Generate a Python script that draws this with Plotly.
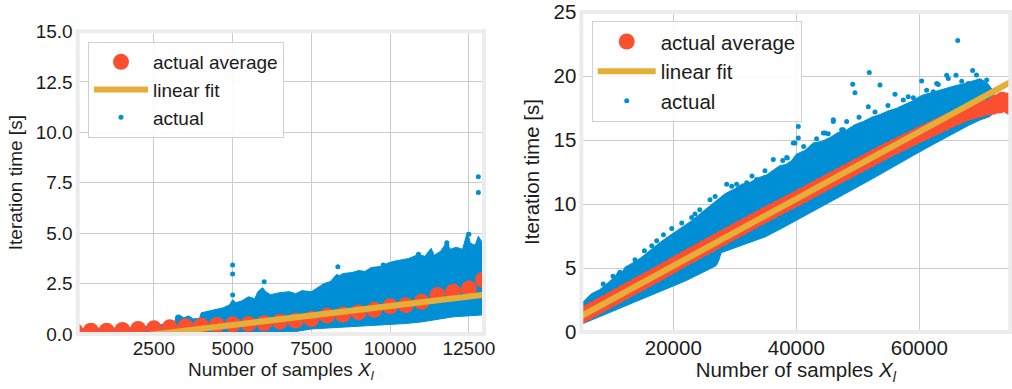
import plotly.graph_objects as go

BLUE = "#008fd5"
RED = "#fc4f30"
GOLD = "#e5ae38"
GRID = "#cbcbcb"
FRAME = "#ececec"
TEXT = "#1c1c1c"
FONT = "Liberation Sans, Arial, sans-serif"

# ---------------- left panel: small sample counts ----------------
left_avg_x = [0, 500, 1000, 1500, 2000, 2500, 3000, 3500, 4000, 4500, 5000, 5500, 6000,
              6500, 7000, 7500, 8000, 8500, 9000, 9500, 10000, 10500, 11000, 11500,
              12000, 12500, 12950]
left_avg_y = [0.15, 0.16, 0.16, 0.2, 0.25, 0.28, 0.33, 0.38, 0.41, 0.45, 0.48, 0.5, 0.53,
              0.61, 0.66, 0.74, 0.91, 0.96, 1.07, 1.2, 1.37, 1.43, 1.6, 1.93,
              2.1, 2.26, 2.69]
left_fit = {"slope": 1.87e-4, "intercept": -0.486}

# envelope of the dense cloud of per-iteration timings
left_upper_x = [80, 1000, 2000, 2500, 3150, 3200, 3300, 3450, 3600, 3750, 3950, 4000, 4300,
                4500, 4700, 4900, 5000, 5100, 5300, 5500, 5700, 5800, 5950, 6050, 6200,
                6500, 6800, 7000, 7200, 7500, 7700, 7900, 8100, 8300, 8400, 8500, 8800,
                9000, 9200, 9400, 9700, 9900, 10100, 10400, 10600, 10900, 11100, 11300,
                11400, 11600, 11800, 11900, 12100, 12300, 12450, 12550, 12700, 12800,
                12900, 12980]
left_upper_y = [0.25, 0.27, 0.32, 0.45, 0.5, 0.9, 0.95, 0.8, 0.9, 0.75, 0.78, 1.05, 1.15,
                1.25, 1.3, 1.45, 1.7, 1.55, 1.65, 1.85, 1.75, 2.1, 2.3, 2.1, 1.95,
                2.05, 2.1, 2.0, 2.15, 2.1, 2.3, 2.5, 2.6, 2.95, 2.9, 3.0, 3.05,
                3.15, 3.1, 3.3, 3.35, 3.5, 3.6, 3.7, 3.75, 3.95, 3.85, 4.25,
                3.9, 4.1, 4.55, 4.2, 4.3, 4.2, 5.05, 4.5, 4.4, 4.85,
                4.6, 4.5]
left_lower_x = [80, 5000, 6000, 7000, 7500, 8500, 9500, 10500, 11000, 11500, 12000, 12980]
left_lower_y = [0.0, 0.0, 0.05, 0.12, 0.25, 0.33, 0.42, 0.52, 0.6, 0.72, 0.85, 0.95]

# isolated slow iterations
left_out_x = [5000, 5000, 5000, 6000, 8340, 9780, 10900, 11800, 11800, 12500, 12800, 12800]
left_out_y = [3.42, 2.97, 1.93, 2.59, 3.34, 3.42, 3.96, 4.52, 4.4, 4.95, 7.8, 7.02]

left_xrange = [80, 12980]

# ---------------- right panel: large sample counts ----------------
right_avg_x = list(range(5000, 73000, 1000)) + [72500, 73000, 73500, 74000, 74500, 74800]
right_avg_y = [1.26, 1.52, 1.78, 2.05, 2.31, 2.57, 2.84, 3.1, 3.37, 3.63, 3.89, 4.15, 4.41,
               4.68, 4.95, 5.23, 5.5, 5.77, 6.04, 6.3, 6.56, 6.82, 7.08, 7.35, 7.61, 7.87,
               8.13, 8.39, 8.65, 8.91, 9.17, 9.42, 9.67, 9.92, 10.17, 10.42, 10.67, 10.93,
               11.19, 11.45, 11.7, 11.96, 12.21, 12.47, 12.72, 12.98, 13.23, 13.48, 13.74,
               13.99, 14.24, 14.48, 14.72, 14.95, 15.18, 15.42, 15.64, 15.87, 16.1, 16.32,
               16.55, 16.77, 16.98, 17.16, 17.3, 17.42, 17.55, 17.62,
               17.95, 17.7, 18.15, 17.85, 18.1, 17.6]
right_fit = {"slope": 2.62e-4, "intercept": -0.07}

right_upper_x = [5040, 5370, 6700, 8000, 9400, 10500, 11000, 11400, 12150, 13800, 14860,
                 16000, 17560, 19000, 20280, 22000, 23000, 24500, 25700, 27000, 28400,
                 30000, 31100, 32500, 33800, 35200, 36500, 37300, 38300, 39250, 40000,
                 41400, 42760, 44100, 45480, 46800, 48190, 49500, 50900, 52300, 53610,
                 55000, 56320, 57700, 59020, 60400, 61740, 63100, 64450, 65800, 67150,
                 68500, 69870, 71000, 71800, 72200]
right_upper_y = [2.2, 2.35, 3.0, 3.3, 3.9, 4.3, 4.7, 4.45, 5.07, 5.5, 5.85,
                 6.3, 6.9, 7.4, 7.8, 8.4, 8.7, 9.3, 9.75, 10.3, 10.8,
                 11.2, 11.55, 11.7, 12.05, 12.3, 12.7, 13.0, 13.1, 13.4, 13.9,
                 14.2, 14.78, 14.9, 15.2, 15.6, 15.8, 16.2, 16.46, 16.8, 17.0,
                 17.3, 17.49, 17.8, 18.1, 18.5, 18.7, 18.9, 19.1, 19.25, 19.4,
                 19.6, 19.8, 19.5, 19.0, 18.5]
right_lower_x = [5040, 6000, 8000, 10000, 12000, 14000, 16000, 18000, 20000, 22000, 24000,
                 26000, 27000, 27400, 27800, 29000, 31000, 33000, 35000, 38000, 41000,
                 44000, 47000, 50000, 53000, 56000, 59000, 62000, 65000, 68000, 70000,
                 71500, 72200]
right_lower_y = [0.6, 0.75, 1.2, 1.6, 2.0, 2.4, 2.8, 3.2, 3.6, 4.0, 4.45,
                 4.95, 5.2, 5.6, 6.2, 6.45, 6.8, 7.1, 7.45, 8.2, 9.0,
                 9.75, 10.55, 11.35, 12.15, 12.95, 13.8, 14.6, 15.4, 16.15, 16.6,
                 16.85, 17.2]

right_out_x = [11330, 13770, 17300, 19740, 21370, 22990, 23530, 25970, 28680, 30300, 31940,
               33560, 36260, 38440, 38540, 39510, 39790, 40330, 40330, 42760, 44400, 44670,
               46020, 46020, 47380, 47640, 48190, 49170, 49540, 51710, 51870, 53610, 56050,
               57400, 59030, 60390, 62280, 62830, 63090, 64450, 64720, 65970, 66250, 67970,
               68680, 70960,
               8600, 10200, 15300, 16500, 18400, 24300, 26800, 29500, 32800, 34900, 37800,
               41200, 43300, 45200, 50200, 52800, 54900, 58200, 61200, 66900, 69300]
right_out_y = [4.68, 5.64, 7.14, 8.1, 8.52, 8.95, 9.22, 10.35, 11.55, 11.55, 11.67,
               11.93, 13.49, 13.65, 13.61, 14.77, 14.78, 16.07, 15.16, 14.52, 15.55, 15.55,
               16.46, 16.59, 15.81, 15.81, 16.46, 19.37, 18.7, 17.62, 20.29, 19.31, 18.58,
               18.14, 18.32, 19.62, 18.79, 19.43, 19.36, 20.08, 19.82, 20.08, 22.8, 19.43,
               20.45, 19.7,
               3.75, 4.35, 6.35, 6.75, 7.6, 9.55, 10.6, 11.4, 12.2, 12.6, 13.4,
               14.5, 15.1, 15.5, 16.8, 17.2, 17.7, 18.4, 18.9, 19.6, 20.1]

right_xrange = [5040, 74800]

W, H = 1012, 389


def panel(xa, ya, legend, avg_x, avg_y, fit, up_x, up_y, lo_x, lo_y, out_x, out_y, xr):
    traces = []
    # dense cloud as a filled band between its upper and lower envelopes
    traces.append(go.Scatter(
        x=up_x + lo_x[::-1], y=up_y + lo_y[::-1], xaxis=xa, yaxis=ya,
        mode="lines", fill="toself", fillcolor=BLUE,
        line=dict(color=BLUE, width=1), showlegend=False, hoverinfo="skip"))
    traces.append(go.Scatter(
        x=out_x, y=out_y, xaxis=xa, yaxis=ya, mode="markers", name="actual",
        marker=dict(color=BLUE, size=5), legend=legend, legendrank=3))
    traces.append(go.Scatter(
        x=avg_x, y=avg_y, xaxis=xa, yaxis=ya, mode="markers", name="actual average",
        marker=dict(color=RED, size=16), legend=legend, legendrank=1))
    fx = list(xr)
    fy = [fit["slope"] * v + fit["intercept"] for v in fx]
    traces.append(go.Scatter(
        x=fx, y=fy, xaxis=xa, yaxis=ya, mode="lines", name="linear fit",
        line=dict(color=GOLD, width=6), legend=legend, legendrank=2))
    return traces


fig = go.Figure()
for t in panel("x", "y", "legend", left_avg_x, left_avg_y, left_fit,
               left_upper_x, left_upper_y, left_lower_x, left_lower_y,
               left_out_x, left_out_y, left_xrange):
    fig.add_trace(t)
for t in panel("x2", "y2", "legend2", right_avg_x, right_avg_y, right_fit,
               right_upper_x, right_upper_y, right_lower_x, right_lower_y,
               right_out_x, right_out_y, right_xrange):
    fig.add_trace(t)

FS_L, FS_R = 19, 20.5
xtitle = "Number of samples <i>X<sub>l</sub></i>"
ytitle = "Iteration time [s]"


def axis(domain, rng, tickvals, size, title, standoff, lstandoff, fmt, anchor):
    return dict(domain=domain, range=rng, tickvals=tickvals, tickformat=fmt,
                showgrid=True, gridcolor=GRID, gridwidth=1, zeroline=False,
                showline=False, ticks="", ticklabeloverflow="allow",
                tickfont=dict(size=size, color=TEXT, family=FONT),
                title=dict(text=title, font=dict(size=size, color=TEXT, family=FONT),
                           standoff=standoff),
                automargin=False, ticklabelstandoff=lstandoff, anchor=anchor)


fig.update_layout(
    width=W, height=H, margin=dict(l=0, r=0, t=0, b=0),
    paper_bgcolor="white", plot_bgcolor="white",
    font=dict(family=FONT, color=TEXT),
    xaxis=axis([77.7 / W, 484 / W], left_xrange, [2500, 5000, 7500, 10000, 12500],
               FS_L, xtitle, 1, 1, "d", "y"),
    yaxis=axis([1 - 334 / H, 1 - 31.3 / H], [0, 15.01], [0, 2.5, 5, 7.5, 10, 12.5, 15],
               FS_L, ytitle, 8, 4, ".1f", "x"),
    xaxis2=axis([581.3 / W, 1010.3 / W], right_xrange, [20000, 40000, 60000],
                FS_R, xtitle, 1, 1, "d", "y2"),
    yaxis2=axis([1 - 332 / H, 1 - 12 / H], [0, 25.02], [0, 5, 10, 15, 20, 25],
                FS_R, ytitle, 8, 4, "d", "x2"),
    legend=dict(x=88 / W, y=1 - 42 / H, xanchor="left", yanchor="top",
                bgcolor="rgba(255,255,255,0.9)", bordercolor="#d0d0d0", borderwidth=1,
                font=dict(size=FS_L, color=TEXT, family=FONT), itemwidth=54),
    legend2=dict(x=591.7 / W, y=1 - 20.7 / H, xanchor="left", yanchor="top",
                 bgcolor="rgba(255,255,255,0.9)", bordercolor="#d0d0d0", borderwidth=1,
                 font=dict(size=FS_R, color=TEXT, family=FONT), itemwidth=58),
)

# light frame around each plotting area
for xr_, yr_ in (("x domain", "y domain"), ("x2 domain", "y2 domain")):
    fig.add_shape(type="rect", xref=xr_, yref=yr_, x0=0, x1=1, y0=0, y1=1,
                  line=dict(color=FRAME, width=4), layer="above")

fig.write_html("out.html")
